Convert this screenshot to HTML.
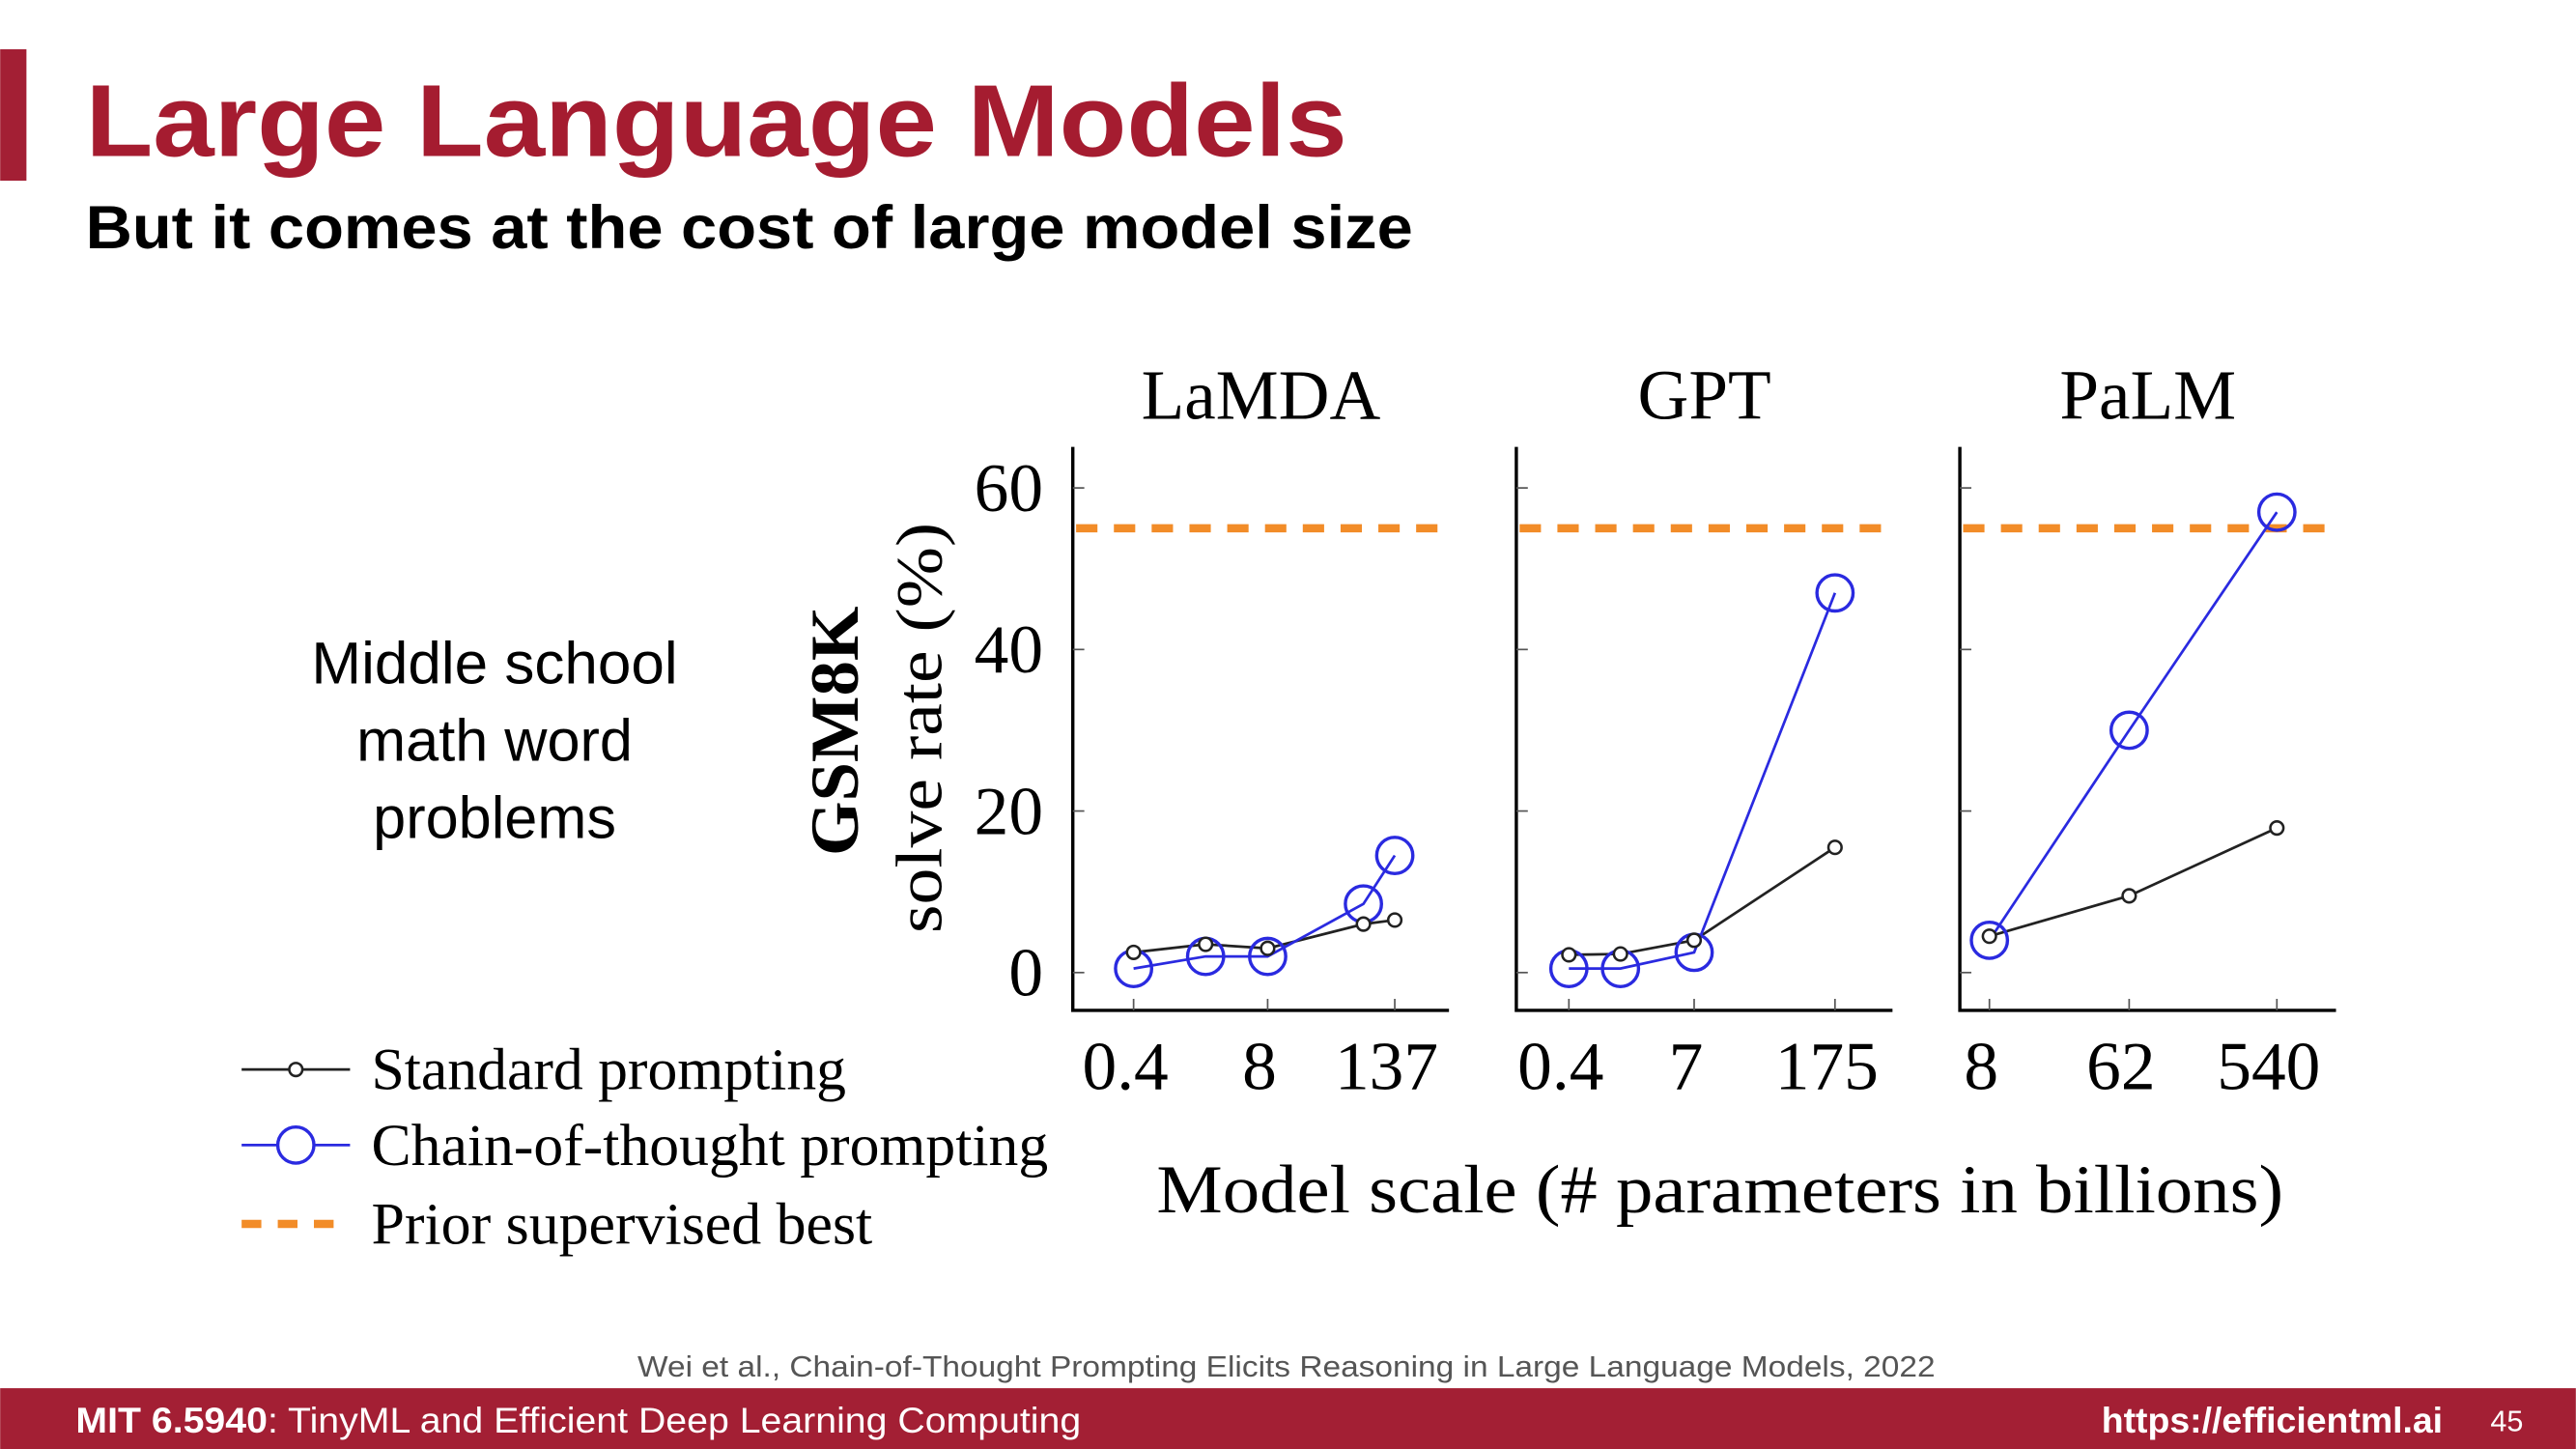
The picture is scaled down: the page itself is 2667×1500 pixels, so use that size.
<!DOCTYPE html>
<html><head><meta charset="utf-8"><style>
html,body{margin:0;padding:0;background:#fff;}
svg{display:block;}
</style></head><body>
<svg id="slide" width="2667" height="1500" viewBox="0 0 1568 882" xmlns="http://www.w3.org/2000/svg">
<rect x="0" y="0" width="1568" height="882" fill="#fff"/>
<rect x="0" y="30" width="16" height="80" fill="#a31f34"/>
<text x="52" y="95" textLength="768" lengthAdjust="spacingAndGlyphs" font-family="Liberation Sans, sans-serif" font-weight="bold" font-size="62" fill="#a51c30">Large Language Models</text>
<text x="52" y="151" textLength="808" lengthAdjust="spacingAndGlyphs" font-family="Liberation Sans, sans-serif" font-weight="bold" font-size="37" fill="#000">But it comes at the cost of large model size</text>
<g font-family="Liberation Sans, sans-serif" font-size="36" fill="#000" text-anchor="middle">
<text x="301" y="416" textLength="223" lengthAdjust="spacingAndGlyphs">Middle school</text><text x="301" y="463">math word</text><text x="301" y="510">problems</text></g>
<g id="chart" font-family="Liberation Serif, serif"></g>
<text x="388" y="838" textLength="790" lengthAdjust="spacingAndGlyphs" font-family="Liberation Sans, sans-serif" font-size="18" fill="#555">Wei et al., Chain-of-Thought Prompting Elicits Reasoning in Large Language Models, 2022</text>
<rect x="0" y="845" width="1568" height="37" fill="#a31f34"/>
<text x="46" y="872" textLength="612" lengthAdjust="spacingAndGlyphs" font-family="Liberation Sans, sans-serif" font-size="22" fill="#fff"><tspan font-weight="bold">MIT 6.5940</tspan>: TinyML and Efficient Deep Learning Computing</text>
<text x="1487" y="872" text-anchor="end" font-family="Liberation Sans, sans-serif" font-weight="bold" font-size="22" fill="#fff">https://efficientml.ai</text>
<text x="1536" y="871" text-anchor="end" font-family="Liberation Sans, sans-serif" font-size="18" fill="#fff">45</text>
</svg>
<script>
const panelNames = ['LaMDA','GPT','PaLM'];
const lamdaSizes = [0.4, 2, 8, 68, 137];
const lamdaStandard = [2.5, 3.5, 3, 6, 6.5];
const lamdaCoT = [0.5, 2, 2, 8.5, 14.5];
const lamdaTicks = ['0.4','8','137'];
const gptSizes = [0.4, 1.3, 7, 175];
const gptStandard = [2.2, 2.3, 4, 15.5];
const gptCoT = [0.5, 0.5, 2.5, 47];
const gptTicks = ['0.4','7','175'];
const palmSizes = [8, 62, 540];
const palmStandard = [4.5, 9.5, 17.9];
const palmCoT = [4, 30, 57];
const palmTicks = ['8','62','540'];
const priorBest = [55, 55, 55];
const yTicks = [0, 20, 40, 60];

const NS='http://www.w3.org/2000/svg';
const chart=document.getElementById('chart');
function mk(tag,attrs,parent){const e=document.createElementNS(NS,tag);for(const k in attrs)e.setAttribute(k,attrs[k]);(parent||chart).appendChild(e);return e;}
const yScale=v=>592-v*(295/60);
const panels=[
 {sizes:lamdaSizes,std:lamdaStandard,cot:lamdaCoT,ticks:lamdaTicks,left:653,x0:690,x1:849},
 {sizes:gptSizes,std:gptStandard,cot:gptCoT,ticks:gptTicks,left:923,x0:955,x1:1117},
 {sizes:palmSizes,std:palmStandard,cot:palmCoT,ticks:palmTicks,left:1193,x0:1211,x1:1386}];
const BLUE='#2a2ae0', ORANGE='#f28c28';
panels.forEach((p,i)=>{
  const lmin=Math.log10(p.sizes[0]), lmax=Math.log10(p.sizes[p.sizes.length-1]);
  const xs=v=>p.x0+(Math.log10(v)-lmin)/(lmax-lmin)*(p.x1-p.x0);
  const g=mk('g',{});
  
  
  const t=mk('text',{x:(p.left+p.left+229)/2,y:255,'text-anchor':'middle','font-size':43},g);
  t.textContent=panelNames[i];
  
  
  const ax=mk('path',{d:`M${p.left} 272 V615 H${p.left+229}`,stroke:'#000','stroke-width':2,fill:'none'},g);
  
  
  yTicks.forEach(v=>{
    const tk=mk('line',{x1:p.left,x2:p.left+7,y1:yScale(v),y2:yScale(v),stroke:'#555','stroke-width':1},g);
    
    
    if(i===0){const tl=mk('text',{x:635,y:yScale(v)+14,'text-anchor':'end','font-size':42},g);tl.textContent=v;
      
      }
  });
  p.ticks.forEach(lbl=>{
    const x=xs(parseFloat(lbl));
    const tk=mk('line',{x1:x,x2:x,y1:615,y2:608,stroke:'#555','stroke-width':1},g);
    
    
    const tl=mk('text',{x:x-5,y:663,'text-anchor':'middle','font-size':42},g);tl.textContent=lbl;
    
    
  });
  const pb=mk('line',{x1:p.left+2,x2:p.left+228,y1:yScale(priorBest[i]),y2:yScale(priorBest[i]),stroke:ORANGE,'stroke-width':5,'stroke-dasharray':'13 10'},g);
  
  
  const sl=mk('polyline',{points:p.sizes.map((s,j)=>xs(s)+','+yScale(p.std[j])).join(' '),stroke:'#222','stroke-width':1.6,fill:'none'},g);
  
  
  const cl=mk('polyline',{points:p.sizes.map((s,j)=>xs(s)+','+yScale(p.cot[j])).join(' '),stroke:BLUE,'stroke-width':1.6,fill:'none'},g);
  
  
  p.sizes.forEach((s,j)=>{
    const c=mk('circle',{cx:xs(s),cy:yScale(p.cot[j]),r:11,stroke:BLUE,'stroke-width':2,fill:'none'},g);
    
    
    const d=mk('circle',{cx:xs(s),cy:yScale(p.std[j]),r:4,stroke:'#222','stroke-width':1.5,fill:'#fff'},g);
    
    
  });
});
const yt=mk('text',{x:0,y:0,transform:'translate(522,445) rotate(-90)','text-anchor':'middle','font-size':42,'font-weight':'bold',textLength:152,lengthAdjust:'spacingAndGlyphs'});
yt.textContent='GSM8K';


const yt2=mk('text',{x:0,y:0,transform:'translate(573,443) rotate(-90)','text-anchor':'middle','font-size':40,textLength:250,lengthAdjust:'spacingAndGlyphs'});
yt2.textContent='solve rate (%)';


const xt=mk('text',{x:1047,y:738,'text-anchor':'middle','font-size':42,textLength:686,lengthAdjust:'spacingAndGlyphs'});
xt.textContent='Model scale (# parameters in billions)';


const lg=mk('g',{});


[['Standard prompting',651,289],['Chain-of-thought prompting',697,412],['Prior supervised best',745,305]].forEach((e,k)=>{
  const y=e[1];
  if(k===0){mk('line',{x1:147,x2:213,y1:y,y2:y,stroke:'#222','stroke-width':1.6},lg);mk('circle',{cx:180,cy:y,r:4,stroke:'#222','stroke-width':1.5,fill:'#fff'},lg);}
  if(k===1){mk('line',{x1:147,x2:213,y1:y,y2:y,stroke:BLUE,'stroke-width':1.6},lg);mk('circle',{cx:180,cy:y,r:11,stroke:BLUE,'stroke-width':2,fill:'#fff'},lg);}
  if(k===2){mk('line',{x1:147,x2:213,y1:y,y2:y,stroke:ORANGE,'stroke-width':5,'stroke-dasharray':'12 10'},lg);}
  const t=mk('text',{x:226,y:y+12,'font-size':36,textLength:e[2],lengthAdjust:'spacingAndGlyphs'},lg);t.textContent=e[0];
  
  
});
</script>
</body></html>
